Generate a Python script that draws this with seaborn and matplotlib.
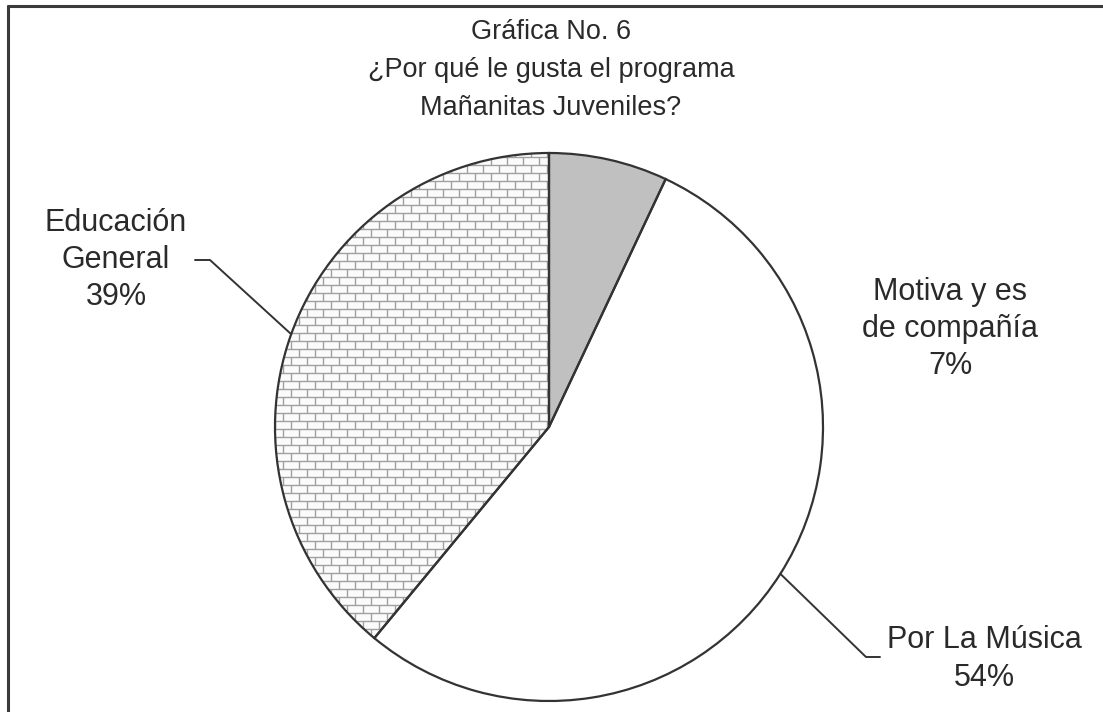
import numpy as np
import matplotlib
matplotlib.use("Agg")
import matplotlib.pyplot as plt
from matplotlib.collections import LineCollection
from matplotlib.lines import Line2D
import seaborn as sns

# data
categories = ["Motiva y es\nde compañía", "Por La Música", "Educación\nGeneral"]
percent = [7, 54, 39]
slice_colors = ["#c0c0c0", "#ffffff", "#fbfbfb"]
title_lines = ["Gráfica No. 6", "¿Por qué le gusta el programa", "Mañanitas Juveniles?"]

W, H = 1103, 712

sns.set_theme(style="white")
plt.rcParams["font.family"] = ["Liberation Sans", "DejaVu Sans"]

fig = plt.figure(figsize=(W / 100, H / 100), dpi=100)
ax = fig.add_axes([0, 0, 1, 1])


def py(y):
    # pixel row (from top) -> data y
    return H - y


cx, cy, r = 549, py(427), 274
edge = "#333333"

wedges, _ = ax.pie(percent, colors=slice_colors, startangle=90,
                   counterclock=False, center=(cx, cy), radius=r,
                   wedgeprops=dict(edgecolor="none", zorder=1))

# brick pattern for the last slice
bh, bw = 8, 16
segs = []
y0 = cy - r
for i in range(int(2 * r / bh) + 2):
    yb = y0 + i * bh
    segs.append([(cx - r, yb), (cx + r, yb)])
    off = (i % 2) * bw / 2
    for xv in np.arange(cx - r + off, cx + r, bw):
        segs.append([(xv, yb), (xv, yb + bh)])
bricks = LineCollection(segs, colors="#a0a0a0", linewidths=1.0, zorder=1.5)
ax.add_collection(bricks)
bricks.set_clip_path(wedges[2])

# outlines on top
ax.pie(percent, startangle=90, counterclock=False, center=(cx, cy),
       radius=r, wedgeprops=dict(fill=False, edgecolor=edge, linewidth=1.6,
                                 zorder=3))

ax.set_xlim(0, W)
ax.set_ylim(0, H)
ax.axis("off")

fs = 22
label_xy = [(950, 329), (984, 659), (116, 260)]
for name, p, (lx, ly) in zip(categories, percent, label_xy):
    ax.text(lx, py(ly), f"{name}\n{p}%", ha="center", va="center",
            fontsize=fs, color="#2a2a2a", linespacing=1.32)


def rim(w):
    a = np.deg2rad((w.theta1 + w.theta2) / 2)
    return cx + r * np.cos(a), cy + r * np.sin(a)


# leader lines
ex, ey = rim(wedges[2])
ax.plot([ex, 210, 195], [ey, py(260), py(260)], color=edge, lw=1.4, zorder=4)
ex, ey = rim(wedges[1])
ax.plot([ex, 866, 880], [ey, py(657), py(657)], color=edge, lw=1.4, zorder=4)

ax.text(551, py(70), "\n".join(title_lines), ha="center", va="center",
        fontsize=19.5, color="#2a2a2a", linespacing=1.58)

# frame of the original picture
fig.add_artist(Line2D([8 / W, 8 / W], [0, 1 - 6 / H], transform=fig.transFigure,
                      color="#3a3a3a", lw=2.2))
fig.add_artist(Line2D([8 / W, 1], [1 - 6 / H, 1 - 6 / H], transform=fig.transFigure,
                      color="#3a3a3a", lw=2.2))

fig.savefig("out.png", dpi=100)
